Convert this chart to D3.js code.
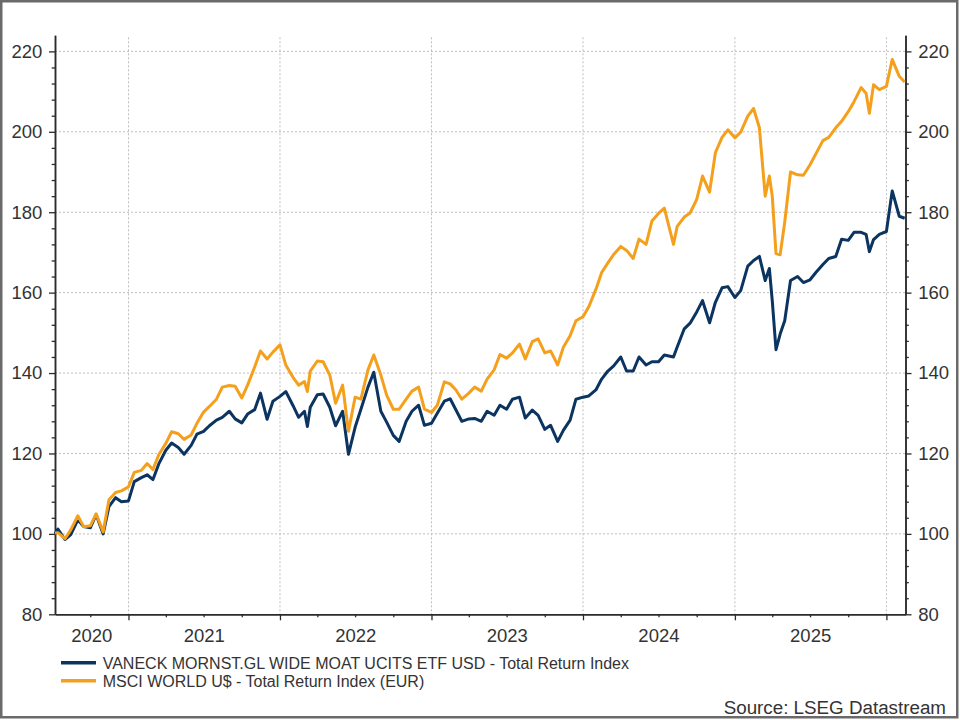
<!DOCTYPE html>
<html>
<head>
<meta charset="utf-8">
<script src="https://cdn.jsdelivr.net/npm/d3@7"></script>
<style>
  body { margin: 0; background: #ffffff; }
  svg text { font-family: "Liberation Sans", Arial, sans-serif; fill: #333333; }
</style>
</head>
<body>
<div id="chart"></div>
<script>

// observation dates (roughly half-monthly, plus a few turning points)
var dates = [
  "2020-07-08","2020-07-15","2020-08-01","2020-08-15","2020-09-01","2020-09-15","2020-10-01","2020-10-15",
  "2020-11-01","2020-11-15","2020-12-01","2020-12-15",
  "2021-01-01","2021-01-15","2021-02-01","2021-02-15","2021-03-01","2021-03-15","2021-04-01","2021-04-15",
  "2021-05-01","2021-05-15","2021-06-01","2021-06-15","2021-07-01","2021-07-15","2021-08-01","2021-08-15",
  "2021-09-01","2021-09-15","2021-10-01","2021-10-15","2021-11-01","2021-11-15","2021-12-01","2021-12-15",
  "2022-01-01","2022-01-15","2022-02-01","2022-02-15","2022-03-01","2022-03-08","2022-03-15","2022-04-01","2022-04-15",
  "2022-05-01","2022-05-15","2022-06-01","2022-06-15","2022-07-01","2022-07-15","2022-08-01","2022-08-15",
  "2022-09-01","2022-09-15","2022-10-01","2022-10-15","2022-11-01","2022-11-15","2022-12-01","2022-12-15",
  "2023-01-01","2023-01-15","2023-02-01","2023-02-15","2023-03-01","2023-03-15","2023-04-01","2023-04-15",
  "2023-05-01","2023-05-15","2023-06-01","2023-06-15","2023-07-01","2023-07-15","2023-08-01","2023-08-15",
  "2023-09-01","2023-09-15","2023-10-01","2023-10-15","2023-11-01","2023-11-15","2023-12-01","2023-12-15",
  "2024-01-01","2024-01-15","2024-02-01","2024-02-15","2024-03-01","2024-03-15","2024-04-01","2024-04-15",
  "2024-05-01","2024-05-15","2024-06-01","2024-06-15","2024-07-01","2024-07-15","2024-08-06","2024-08-15",
  "2024-09-01","2024-09-15","2024-10-01","2024-10-15","2024-11-01","2024-11-15","2024-12-01","2024-12-15",
  "2025-01-01","2025-01-15","2025-02-01","2025-02-15","2025-03-01","2025-03-15","2025-03-25","2025-04-01",
  "2025-04-10","2025-04-20","2025-05-01","2025-05-15","2025-06-01","2025-06-15","2025-07-01","2025-07-15",
  "2025-08-01","2025-08-15","2025-09-01","2025-09-15","2025-10-01","2025-10-15","2025-11-01","2025-11-13",
  "2025-11-21","2025-12-01","2025-12-15","2026-01-01","2026-01-15","2026-02-01","2026-02-14"
];

// VANECK MORNST.GL WIDE MOAT UCITS ETF USD - TRI
var moat = [
  100.0,101.2, 98.6, 99.8,103.5,101.8,101.5,104.8,
  100.0,106.8,109.0,108.0,
  108.2,113.0,114.0,114.7,113.5,117.4,120.8,122.6,
  121.5,119.8,122.0,124.8,125.5,126.9,128.3,129.0,
  130.5,128.6,127.6,129.8,130.9,135.0,128.5,133.0,
  134.2,135.4,132.0,129.0,130.5,126.7,131.5,134.6,134.8,
  131.5,126.9,130.5,119.8,126.5,131.0,136.5,140.2,
  130.5,127.8,124.5,123.0,128.0,130.5,132.0,127.0,
  127.5,130.0,133.0,133.6,130.8,128.0,128.6,128.7,
  128.0,130.5,129.5,132.0,131.0,133.5,134.0,128.8,
  130.8,129.5,126.0,127.0,123.0,125.8,128.3,133.5,
  134.0,134.3,135.8,138.5,140.5,141.8,144.0,140.5,
  140.5,144.0,142.0,142.8,142.8,144.5,144.0,146.5,
  151.0,152.4,155.2,158.0,152.5,157.6,161.2,161.5,
  158.8,160.5,166.6,168.0,169.0,163.0,166.0,158.0,
  145.8,149.7,153.0,163.0,164.0,162.5,163.2,165.0,
  167.0,168.5,169.0,173.3,173.0,175.0,175.0,174.5,
  170.2,173.2,174.5,175.2,185.3,179.0,178.5
];

// MSCI WORLD U$ - TRI (EUR)
var msci = [
  100.2,100.3, 98.8,101.0,104.5,101.8,102.0,105.0,
  100.5,108.5,110.3,110.7,
  111.7,115.3,115.8,117.5,116.0,119.7,122.5,125.4,
  124.9,123.5,124.6,127.5,130.3,131.7,133.5,136.5,
  136.9,136.7,133.8,137.0,141.5,145.5,143.5,145.2,
  147.0,142.0,139.0,137.0,137.9,135.4,140.5,143.0,142.8,
  139.5,132.5,137.0,125.5,134.0,133.5,140.8,144.5,
  139.5,134.5,131.0,131.0,133.5,135.5,136.5,131.0,
  130.2,132.0,137.8,137.3,135.8,133.5,135.0,136.5,
  135.5,138.5,140.8,144.6,143.7,145.0,147.2,143.5,
  147.8,148.5,145.0,145.5,142.0,146.5,149.3,153.0,
  154.0,156.5,160.8,165.0,167.4,169.5,171.5,170.5,
  168.5,173.3,172.0,177.8,179.7,181.0,172.0,176.5,
  178.8,179.8,183.2,189.0,185.0,194.8,198.6,200.5,
  198.5,199.9,203.9,205.8,201.0,184.0,189.0,184.0,
  169.7,169.4,177.5,190.0,189.3,189.2,191.8,194.5,
  197.8,198.6,201.0,202.6,205.0,207.5,211.0,209.6,
  204.6,211.7,210.5,211.3,218.0,213.8,212.4
];

var seriesNames = [
  "VANECK MORNST.GL WIDE MOAT UCITS ETF USD - Total Return Index",
  "MSCI WORLD U$ - Total Return Index (EUR)"
];
var seriesColors = ["#0b3461", "#f4a01c"];
var yearLabels = ["2020", "2021", "2022", "2023", "2024", "2025"];
var yMajor = [80, 100, 120, 140, 160, 180, 200, 220];
var sourceText = "Source: LSEG Datastream";

var width = 960, height = 720;
var plotL = 55, plotR = 905.5, plotT = 35.3, plotB = 614.3;

var parse = d3.timeParse("%Y-%m-%d");
var dd = dates.map(parse);

var svg = d3.select("#chart")
  .append("svg")
    .attr("width", width)
    .attr("height", height);

svg.append("rect")
  .attr("x", 1.25).attr("y", 1.25)
  .attr("width", 956).attr("height", 716)
  .attr("fill", "#fff")
  .attr("stroke", "#6a6a6a")
  .attr("stroke-width", 2.5);

var x = d3.scaleTime()
  .domain([parse("2020-07-08"), parse("2026-02-16")])
  .range([plotL, plotR]);

var y = d3.scaleLinear()
  .domain([80, 224])
  .range([plotB, plotT]);

var yearStarts = d3.timeYear.range(parse("2021-01-01"), parse("2026-02-16"));
var quarters = d3.timeMonth.every(3).range(parse("2020-07-09"), parse("2026-02-16"))
  .filter(function(d) { return d.getMonth() !== 0; });
var yMinor = d3.range(80, 224, 4).filter(function(v) { return v % 20 !== 0; });

// grid
svg.append("g").selectAll("line")
  .data(yMajor.filter(function(v) { return v > 80; }))
  .enter().append("line")
    .attr("x1", plotL).attr("x2", plotR)
    .attr("y1", function(d) { return y(d); })
    .attr("y2", function(d) { return y(d); })
    .attr("stroke", "#bdbdbd")
    .attr("stroke-dasharray", "2,2");

svg.append("g").selectAll("line")
  .data(yearStarts)
  .enter().append("line")
    .attr("x1", function(d) { return x(d); })
    .attr("x2", function(d) { return x(d); })
    .attr("y1", plotT + 2).attr("y2", plotB)
    .attr("stroke", "#bdbdbd")
    .attr("stroke-dasharray", "2,2");

function styleAxis(g) {
  g.select(".domain").attr("stroke", "#2b2b2b").attr("stroke-width", 1.5);
  g.selectAll(".tick line").attr("stroke", "#2b2b2b").attr("stroke-width", 1.3);
  g.selectAll(".tick text").attr("font-size", "18.5px").attr("fill", "#333");
}

// left axis
svg.append("g")
  .attr("transform", "translate(" + plotL + ",0)")
  .call(d3.axisLeft(y).tickValues(yMajor).tickSize(6).tickPadding(6.7).tickSizeOuter(0))
  .call(styleAxis);
svg.append("g")
  .attr("transform", "translate(" + plotL + ",0)")
  .call(d3.axisLeft(y).tickValues(yMinor).tickSize(3.3).tickFormat("").tickSizeOuter(0))
  .call(styleAxis);

// right axis
svg.append("g")
  .attr("transform", "translate(" + plotR + ",0)")
  .call(d3.axisRight(y).tickValues(yMajor).tickSize(6).tickPadding(6.8).tickSizeOuter(0))
  .call(styleAxis);
svg.append("g")
  .attr("transform", "translate(" + plotR + ",0)")
  .call(d3.axisRight(y).tickValues(yMinor).tickSize(3.3).tickFormat("").tickSizeOuter(0))
  .call(styleAxis);

// bottom axis
svg.append("g")
  .attr("transform", "translate(0," + plotB + ")")
  .call(d3.axisBottom(x).tickValues(yearStarts).tickSize(6).tickFormat("").tickSizeOuter(0))
  .call(styleAxis);
svg.append("g")
  .attr("transform", "translate(0," + plotB + ")")
  .call(d3.axisBottom(x).tickValues(quarters).tickSize(3).tickFormat("").tickSizeOuter(0))
  .call(styleAxis);

// year labels centred on the visible part of each year
var dom = x.domain();
svg.append("g").selectAll("text")
  .data(yearLabels)
  .enter().append("text")
    .attr("x", function(d) {
      var s = new Date(+d, 0, 1), e = new Date(+d + 1, 0, 1);
      var a = s < dom[0] ? dom[0] : s, b = e > dom[1] ? dom[1] : e;
      return (x(a) + x(b)) / 2;
    })
    .attr("y", 642.3)
    .attr("text-anchor", "middle")
    .attr("font-size", "18.5px")
    .text(function(d) { return d; });

// series
var line = d3.line()
  .x(function(d, i) { return x(dd[i]); })
  .y(function(d) { return y(d); });

[moat, msci].forEach(function(s, k) {
  svg.append("path")
    .datum(s)
    .attr("fill", "none")
    .attr("stroke", seriesColors[k])
    .attr("stroke-width", 3)
    .attr("stroke-linejoin", "round")
    .attr("d", line);
});

// legend
var legend = svg.append("g");
seriesNames.forEach(function(n, k) {
  var ly = 662.7 + k * 18;
  legend.append("line")
    .attr("x1", 61).attr("x2", 96)
    .attr("y1", ly).attr("y2", ly)
    .attr("stroke", seriesColors[k])
    .attr("stroke-width", 3.5);
  legend.append("text")
    .attr("x", 102.7).attr("y", ly + 6)
    .attr("font-size", "16px")
    .text(n);
});

svg.append("text")
  .attr("x", 946).attr("y", 713.5)
  .attr("text-anchor", "end")
  .attr("font-size", "18.8px")
  .text(sourceText);

</script>
</body>
</html>
